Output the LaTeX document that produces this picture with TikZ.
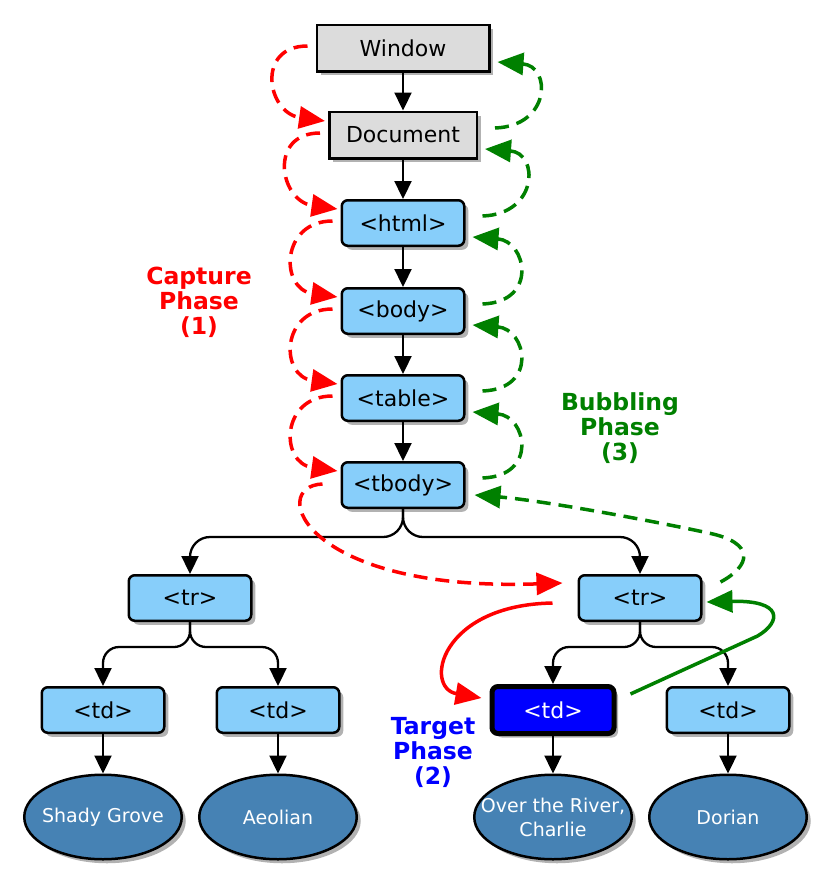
\documentclass[tikz,border=0pt]{standalone}
\usepackage{fontspec}
\setmainfont{DejaVu Sans}
\usetikzlibrary{arrows.meta,shadows,shapes.geometric,calc}
\definecolor{lsb}{HTML}{87CEFA}
\definecolor{gbo}{HTML}{DCDCDC}
\definecolor{stb}{HTML}{4682B4}
\definecolor{grn}{HTML}{008000}
\tikzset{
  shad/.style={drop shadow={shadow xshift=4pt,shadow yshift=-4pt,opacity=.3,fill=black}},
  graybox/.style={draw=black,line width=2.5pt,fill=gbo,minimum height=46.5pt,shad,
    font=\fontsize{22}{25}\selectfont,inner sep=0pt},
  bluebox/.style={draw=black,line width=2.5pt,fill=lsb,minimum width=122.5pt,minimum height=45.5pt,
    rounded corners=6pt,shad,font=\fontsize{22}{25}\selectfont,inner sep=0pt},
  tgtbox/.style={bluebox,fill=blue,line width=5pt,text=white,minimum width=122pt,minimum height=47pt},
  leaf/.style={ellipse,draw=black,line width=2.5pt,fill=stb,minimum width=157.5pt,minimum height=84.5pt,
    text=white,align=center,font=\fontsize{19}{24}\selectfont,inner xsep=-18pt,inner ysep=0pt,shad},
  conn/.style={line width=2.3pt,-{Triangle[length=18pt,width=17pt]}},
  capflow/.style={red,line width=3.5pt,dash pattern=on 14pt off 8pt,-{Triangle[length=26pt,width=22pt]}},
  capsolid/.style={red,line width=3.5pt,-{Triangle[length=26pt,width=22pt]}},
  bubflow/.style={grn,line width=3.5pt,dash pattern=on 14pt off 8pt,-{Triangle[length=26pt,width=22pt]}},
  bubsolid/.style={grn,line width=3.5pt,-{Triangle[length=26pt,width=22pt]}},
  phase/.style={font=\bfseries\fontsize{23.5}{25}\selectfont,align=center},
}
\begin{document}
\begin{tikzpicture}[x=1pt,y=-1pt]
\fill[white] (0,0) rectangle (822,873);
\useasboundingbox (0,0) rectangle (822,873);

% nodes
\node[graybox,minimum width=172.5pt] (win) at (403,48) {Window};
\node[graybox,minimum width=147.5pt] (doc) at (403,135) {Document};
\node[bluebox] (html) at (403,223) {<html>};
\node[bluebox] (body) at (403,311) {<body>};
\node[bluebox] (table) at (403,398) {<table>};
\node[bluebox] (tbody) at (403,485) {<tbody>};
\node[bluebox] (ltr) at (190,598) {<tr>};
\node[bluebox] (rtr) at (640,598) {<tr>};
\node[bluebox] (td1) at (103,710) {<td>};
\node[bluebox] (td2) at (278,710) {<td>};
\node[tgtbox] (td3) at (553,710) {<td>};
\node[bluebox] (td4) at (728,710) {<td>};
\node[leaf] (l1) at (103,817) {Shady Grove};
\node[leaf] (l2) at (278,817) {Aeolian};
\node[leaf] (l3) at (553,817) {Over the River,\\Charlie};
\node[leaf] (l4) at (728,817) {Dorian};

% phase labels
\node[phase,red] (capl) at (199,302) {Capture\\Phase\\(1)};
\node[phase,grn] (bubl) at (620,428) {Bubbling\\Phase\\(3)};
\node[phase,blue] (tgtl) at (433,752) {Target\\Phase\\(2)};

% tree edges
\draw[conn] (win) -- (doc);
\draw[conn] (doc) -- (html);
\draw[conn] (html) -- (body);
\draw[conn] (body) -- (table);
\draw[conn] (table) -- (tbody);
\draw[conn,rounded corners=20pt] (tbody.south) -- ($(tbody.south)+(0,28)$) -| (ltr.north);
\draw[conn,rounded corners=20pt] (tbody.south) -- ($(tbody.south)+(0,28)$) -| (rtr.north);
\draw[conn,rounded corners=16pt] (ltr.south) -- ($(ltr.south)+(0,25)$) -| (td1.north);
\draw[conn,rounded corners=16pt] (ltr.south) -- ($(ltr.south)+(0,25)$) -| (td2.north);
\draw[conn,rounded corners=16pt] (rtr.south) -- ($(rtr.south)+(0,25)$) -| (td3.north);
\draw[conn,rounded corners=16pt] (rtr.south) -- ($(rtr.south)+(0,25)$) -| (td4.north);
\draw[conn] (td1) -- (l1);
\draw[conn] (td2) -- (l2);
\draw[conn] (td3) -- (l3);
\draw[conn] (td4) -- (l4);

% capture phase
\foreach \a/\b in {win/doc,doc/html,html/body,body/table,table/tbody}{
  \draw[capflow] ($(\a.west)+(-8,-2)$) .. controls +(-52,0) and +(-58,-8) .. ($(\b.west)+(-3,-14)$);
}
\draw[capflow] ($(tbody.west)+(-18,-1)$) .. controls +(-55,2) and +(-260,9) .. ($(rtr.west)+(-15,-15)$);
\draw[capsolid] ($(rtr.west)+(-25,5)$) .. controls +(-113,2) and +(-58,-10) .. ($(td3.west)+(-8,-12)$);

% bubbling phase
\foreach \a/\b in {doc/win,html/doc,body/html,table/body,tbody/table}{
  \draw[bubflow] ($(\a.east)+(17,-7)$) .. controls +(56,-2) and +(54,4) .. ($(\b.east)+(7,14)$);
}
\coordinate (gm) at ($(rtr.east)+(6,-65)$);
\draw[bubflow] ($(rtr.east)+(18,-16)$) .. controls +(30,-16) and +(48,10) .. (gm)
   .. controls +(-70,-15) and +(63,5) .. ($(tbody.east)+(9,10)$);
\draw[bubsolid] ($(td3.east)+(14,-16)$) -- ++(127,-58) .. controls +(24,-14) and +(77,-2) .. ($(rtr.east)+(4,4)$);
\end{tikzpicture}
\end{document}
